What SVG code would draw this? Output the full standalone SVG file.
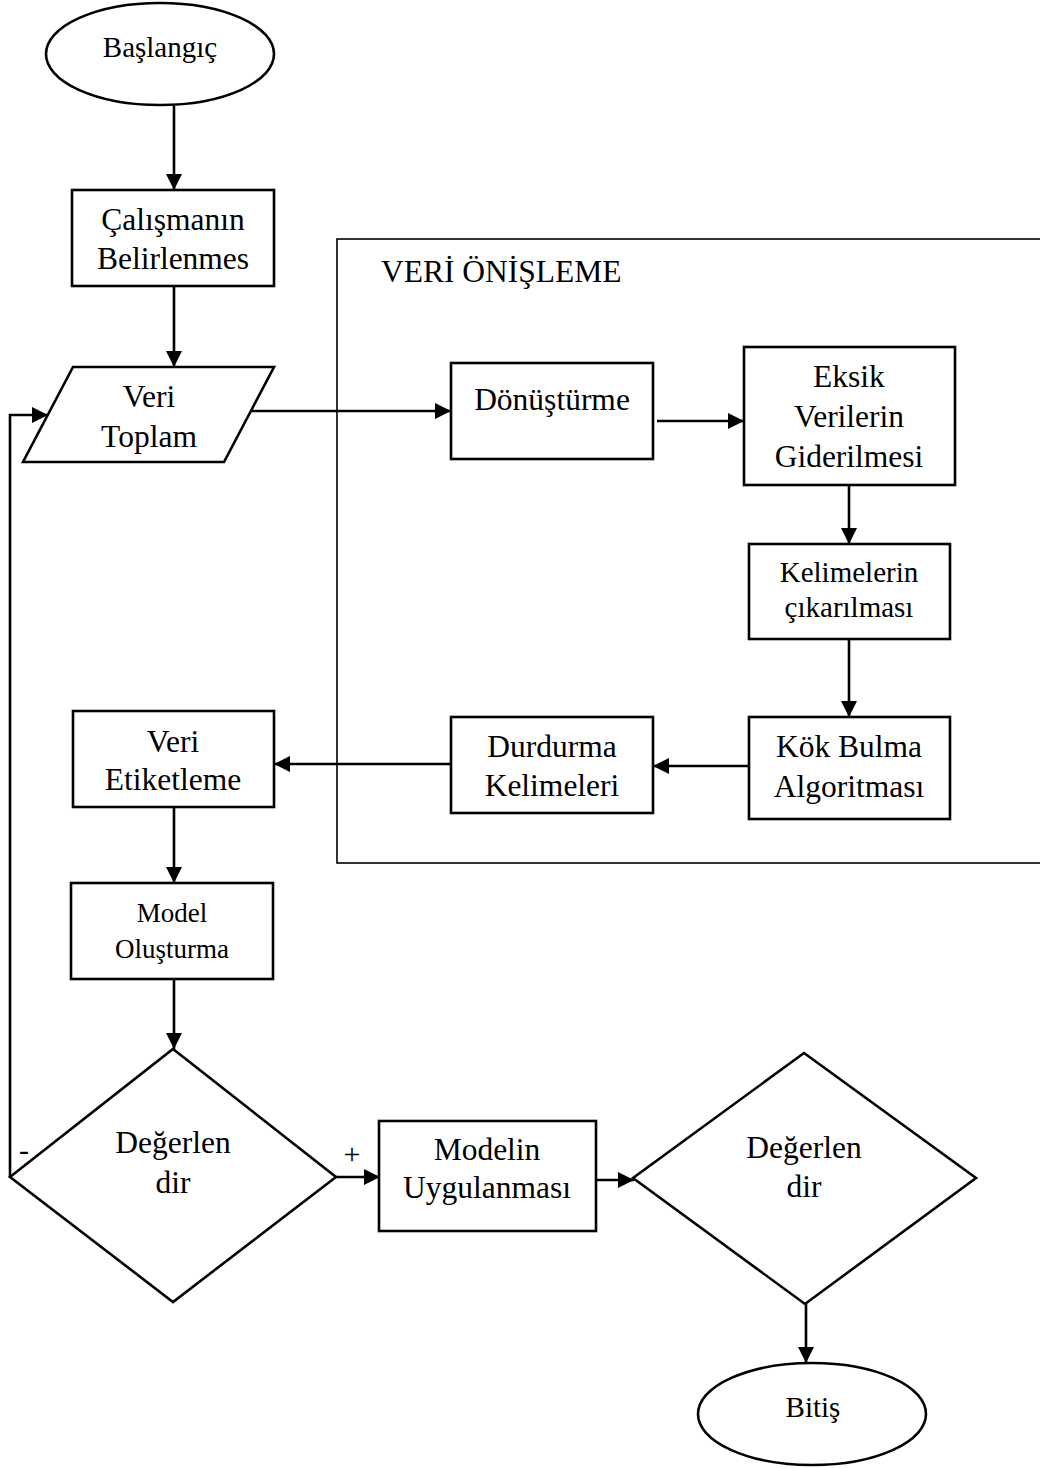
<svg xmlns="http://www.w3.org/2000/svg" width="1040" height="1468" viewBox="0 0 1040 1468">
<style>
.s{fill:#fff;stroke:#000;stroke-width:2.6}
.t{font-family:"Liberation Serif","Times New Roman",serif;font-size:31.5px;fill:#000;text-anchor:middle}
.c{fill:none;stroke:#000;stroke-width:2.6}
</style>
<defs>
<marker id="ah" markerUnits="userSpaceOnUse" markerWidth="18" markerHeight="16" refX="16" refY="8" orient="auto">
<path d="M0,0 L16,8 L0,16 z" fill="#000"/>
</marker>
</defs>
<rect width="1040" height="1468" fill="#fff"/>
<g id="preprocessing">
<rect x="337" y="239" width="720" height="624" fill="none" stroke="#000" stroke-width="1.6"/>
<text class="t" x="381" y="282" style="text-anchor:start">VERİ ÖNİŞLEME</text>
</g>
<g id="connectors">
<path class="c" d="M174,106 V190" marker-end="url(#ah)"/>
<path class="c" d="M174,286 V367" marker-end="url(#ah)"/>
<path class="c" d="M252,411 H451" marker-end="url(#ah)"/>
<path class="c" d="M657,421 H744" marker-end="url(#ah)"/>
<path class="c" d="M849,485 V544" marker-end="url(#ah)"/>
<path class="c" d="M849,639 V717" marker-end="url(#ah)"/>
<path class="c" d="M749,766 H653" marker-end="url(#ah)"/>
<path class="c" d="M451,764 H274" marker-end="url(#ah)"/>
<path class="c" d="M174,807 V883" marker-end="url(#ah)"/>
<path class="c" d="M174,979 V1049" marker-end="url(#ah)"/>
<path class="c" d="M336,1177 H380" marker-end="url(#ah)"/>
<path class="c" d="M596,1180 H634" marker-end="url(#ah)"/>
<path class="c" d="M806,1304 V1363" marker-end="url(#ah)"/>
<path class="c" d="M10,1177 V415 H48" marker-end="url(#ah)"/>
<text class="t" x="352" y="1164" style="font-size:30px">+</text>
<text class="t" x="24" y="1160" style="font-size:30px">-</text>
</g>
<g id="start">
<ellipse class="s" cx="160" cy="54" rx="114" ry="51"/>
<text class="t" x="160" y="57" style="font-size:29px">Başlangıç</text>
</g>
<g id="calismanin">
<rect class="s" x="72" y="190" width="202" height="96"/>
<text class="t" x="173" y="230">Çalışmanın</text>
<text class="t" x="173" y="269">Belirlenmes</text>
</g>
<g id="veri-toplam">
<polygon class="s" points="73,367 274,367 224,462 23,462"/>
<text class="t" x="149" y="407">Veri</text>
<text class="t" x="149" y="447">Toplam</text>
</g>
<g id="donusturme">
<rect class="s" x="451" y="363" width="202" height="96"/>
<text class="t" x="552" y="410">Dönüştürme</text>
</g>
<g id="eksik">
<rect class="s" x="744" y="347" width="211" height="138"/>
<text class="t" x="849" y="387">Eksik</text>
<text class="t" x="849" y="427">Verilerin</text>
<text class="t" x="849" y="467">Giderilmesi</text>
</g>
<g id="kelimelerin">
<rect class="s" x="749" y="544" width="201" height="95"/>
<text class="t" x="849" y="582" style="font-size:29px">Kelimelerin</text>
<text class="t" x="849" y="617" style="font-size:29px">çıkarılması</text>
</g>
<g id="kok-bulma">
<rect class="s" x="749" y="717" width="201" height="102"/>
<text class="t" x="849" y="757">Kök Bulma</text>
<text class="t" x="849" y="797">Algoritması</text>
</g>
<g id="durdurma">
<rect class="s" x="451" y="717" width="202" height="96"/>
<text class="t" x="552" y="757">Durdurma</text>
<text class="t" x="552" y="796">Kelimeleri</text>
</g>
<g id="veri-etiketleme">
<rect class="s" x="73" y="711" width="201" height="96"/>
<text class="t" x="173" y="752">Veri</text>
<text class="t" x="173" y="790">Etiketleme</text>
</g>
<g id="model-olusturma">
<rect class="s" x="71" y="883" width="202" height="96"/>
<text class="t" x="172" y="922" style="font-size:27px">Model</text>
<text class="t" x="172" y="958" style="font-size:27px">Oluşturma</text>
</g>
<g id="degerlendir-1">
<polygon class="s" points="173,1049 336,1177 173,1302 10,1177"/>
<text class="t" x="173" y="1153">Değerlen</text>
<text class="t" x="173" y="1193">dir</text>
</g>
<g id="modelin">
<rect class="s" x="379" y="1121" width="217" height="110"/>
<text class="t" x="487" y="1160">Modelin</text>
<text class="t" x="487" y="1198">Uygulanması</text>
</g>
<g id="degerlendir-2">
<polygon class="s" points="804,1053 976,1178 805,1304 633,1178"/>
<text class="t" x="804" y="1158">Değerlen</text>
<text class="t" x="804" y="1197">dir</text>
</g>
<g id="end">
<ellipse class="s" cx="812" cy="1414" rx="114" ry="51"/>
<text class="t" x="813" y="1417" style="font-size:29px">Bitiş</text>
</g>
</svg>
